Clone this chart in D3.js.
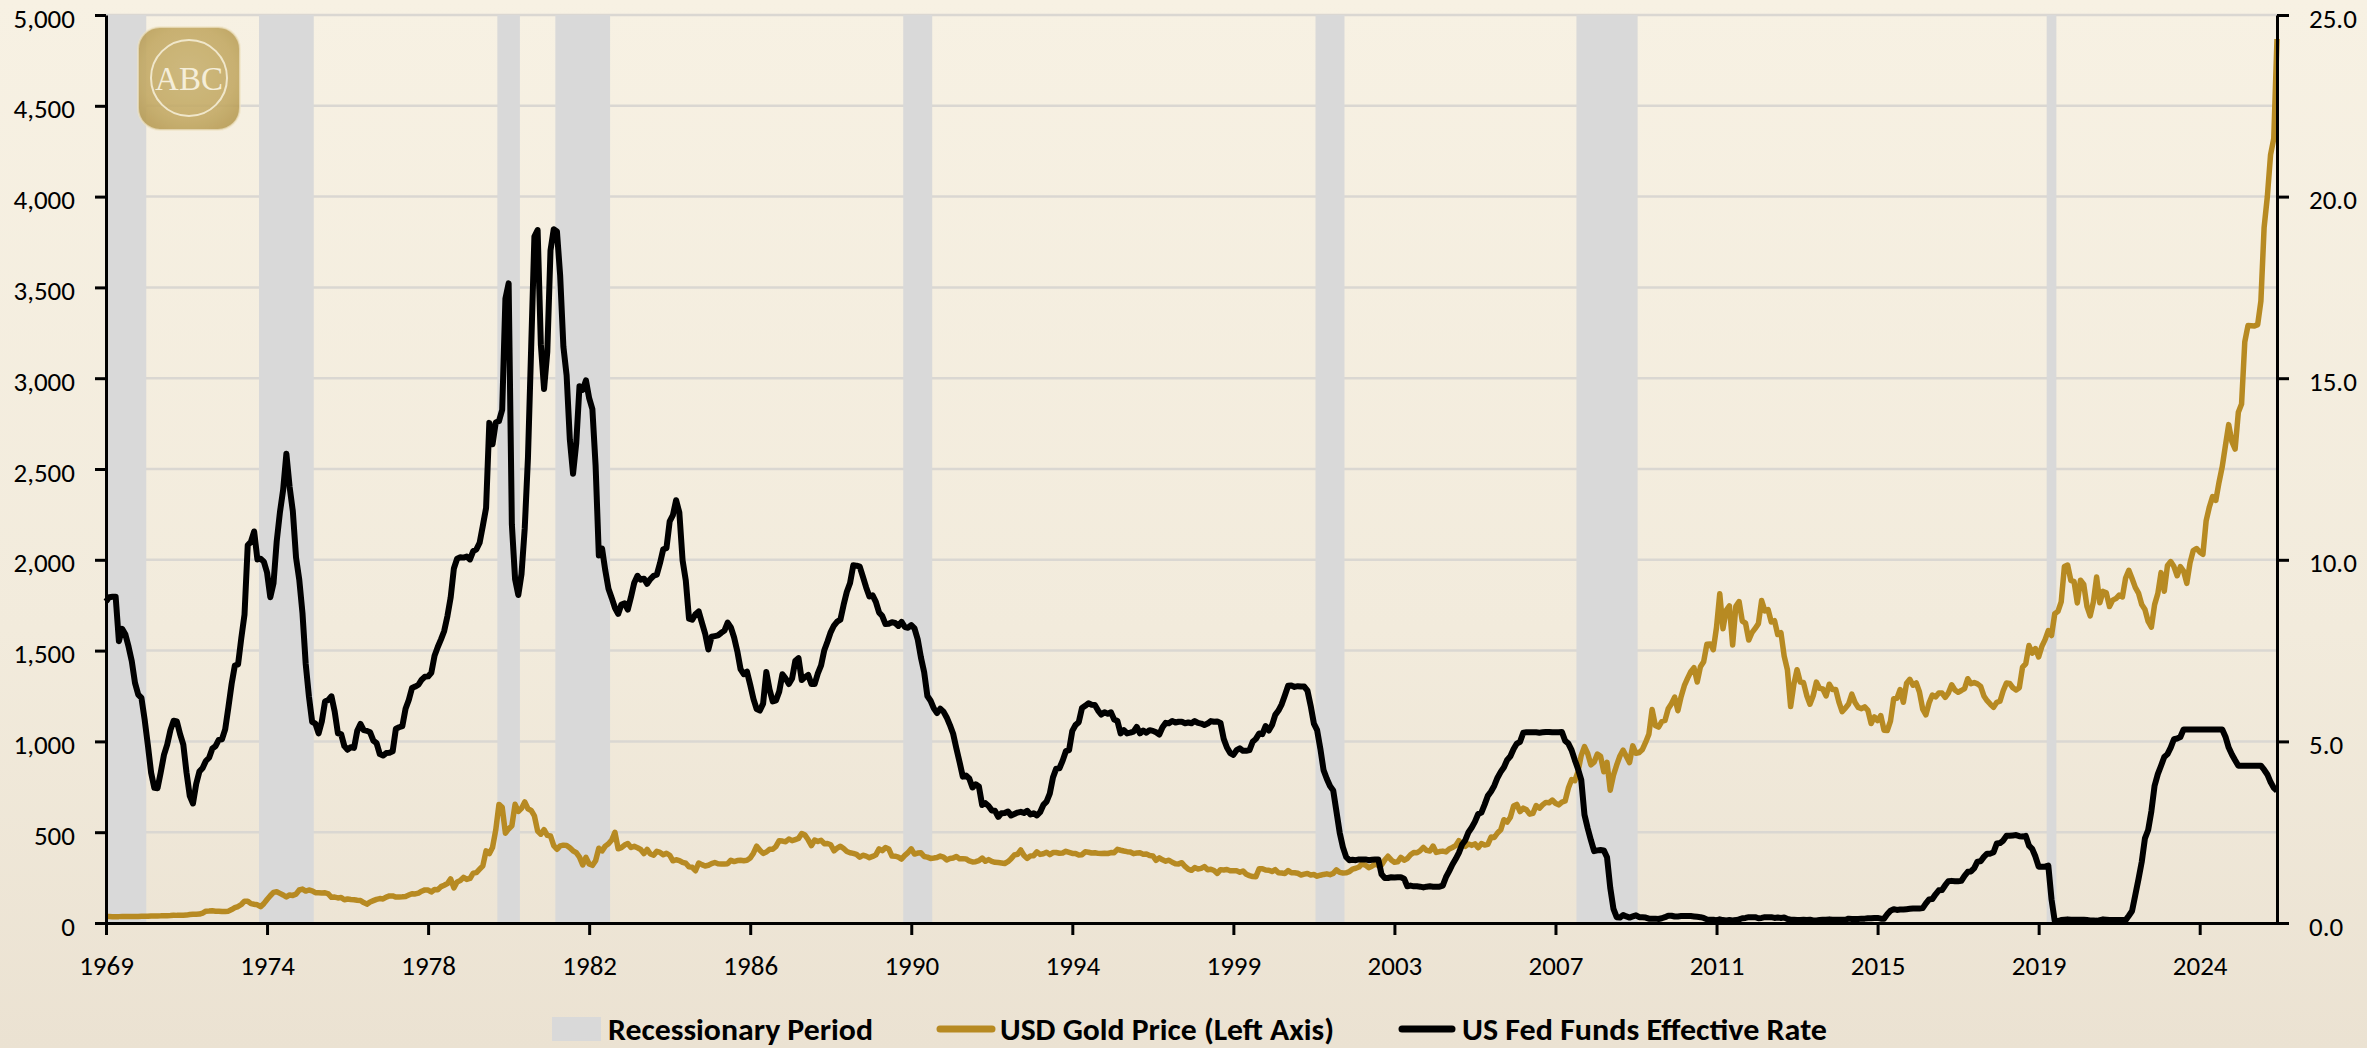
<!DOCTYPE html>
<html>
<head>
<meta charset="utf-8">
<script src="https://cdn.jsdelivr.net/npm/d3@7"></script>
<style>
  html, body { margin: 0; padding: 0; }
  body { width: 2367px; height: 1048px; overflow: hidden; }
  svg text { font-family: Carlito, Lato, "Liberation Sans", sans-serif; }
</style>
</head>
<body>
<svg id="chart" width="2367" height="1048"></svg>
<script>
// monthly series, first value = Nov 1969, last = Jan 2026
var startMonth = '1969-11';

// USD gold price, month end
var goldPrice = [
  35.2, 35.2,
  34.9, 35.0, 35.1, 35.6, 35.5, 35.4, 35.3, 35.4, 36.2, 37.5, 37.4, 37.4,
  38.9, 38.7, 38.9, 39.5, 40.5, 40.1, 41.0, 42.7, 42.0, 42.5, 43.0, 43.6,
  46.8, 48.3, 48.3, 49.0, 54.6, 65.1, 65.7, 67.0, 64.9, 64.9, 62.9, 63.9,
  65.1, 74.2, 84.5, 90.5, 102.0, 120.1, 120.0, 106.8, 103.0, 100.1, 90.0, 106.7,
  129.2, 150.2, 168.4, 172.2, 163.3, 154.1, 143.0, 154.6, 151.8, 158.8, 181.7, 186.5,
  175.8, 181.8, 177.3, 167.0, 167.0, 165.2, 166.7, 160.3, 141.3, 142.9, 138.2, 140.3,
  128.2, 132.3, 129.6, 128.4, 125.5, 123.8, 112.5, 104.0, 116.0, 123.2, 130.3, 134.5,
  132.3, 142.8, 149.2, 149.0, 143.0, 143.0, 144.1, 146.4, 154.1, 161.5, 160.0, 164.9,
  175.2, 182.3, 181.6, 170.9, 184.2, 183.1, 200.3, 208.1, 217.1, 242.6, 193.4, 226.0,
  233.7, 251.3, 240.1, 245.3, 274.6, 277.5, 296.5, 315.1, 397.3, 382.0, 415.7, 512.0,
  653.0, 637.0, 494.5, 518.0, 535.5, 653.5, 614.3, 631.3, 666.8, 629.0, 619.8, 589.8,
  506.5, 489.0, 513.8, 482.8, 479.3, 426.0, 406.0, 425.0, 428.8, 427.0, 414.5, 397.5,
  387.0, 362.6, 320.0, 361.3, 325.3, 317.5, 342.9, 411.5, 397.0, 423.3, 436.0, 456.9,
  499.5, 408.5, 414.8, 429.3, 437.5, 416.0, 422.0, 414.3, 405.0, 382.0, 405.0, 380.0,
  373.8, 394.3, 388.5, 375.8, 384.3, 373.1, 342.4, 348.3, 343.8, 333.5, 329.0, 309.0,
  306.7, 287.8, 329.8, 321.4, 314.0, 317.8, 327.0, 333.3, 326.0, 325.1, 325.3, 326.8,
  345.5, 338.2, 344.0, 345.8, 343.2, 345.5, 357.5, 384.7, 423.2, 401.0, 383.5, 390.9,
  405.9, 405.9, 421.5, 453.3, 451.0, 447.3, 462.5, 453.4, 459.5, 466.0, 492.5, 484.1,
  458.0, 426.2, 457.0, 448.5, 455.5, 436.6, 437.6, 431.0, 397.7, 412.4, 422.6, 410.2,
  394.0, 387.0, 383.2, 377.6, 361.8, 373.0, 368.3, 359.8, 366.5, 375.3, 408.2, 398.6,
  415.1, 407.7, 368.5, 367.8, 363.1, 352.2, 372.3, 387.8, 408.4, 379.5, 384.9, 386.2,
  366.0, 362.7, 355.7, 357.8, 360.4, 368.4, 362.9, 347.4, 354.9, 357.5, 366.3, 353.2,
  354.1, 353.1, 341.7, 336.4, 337.5, 343.4, 357.8, 340.0, 349.0, 339.3, 334.2, 333.0,
  330.5, 327.6, 337.8, 354.3, 374.8, 378.5, 401.8, 371.6, 355.5, 369.6, 370.9, 391.8,
  377.9, 381.6, 389.2, 376.5, 387.6, 388.3, 384.0, 385.8, 394.9, 389.1, 383.1, 383.3,
  374.9, 376.4, 392.0, 389.8, 385.3, 387.1, 383.4, 382.4, 384.0, 382.7, 387.8, 387.0,
  405.6, 400.7, 396.4, 392.9, 391.3, 382.0, 385.3, 386.5, 379.0, 379.5, 371.3, 369.3,
  345.5, 358.6, 348.2, 340.2, 345.6, 334.6, 326.4, 325.4, 332.1, 311.4, 296.8, 290.2,
  304.9, 297.4, 301.0, 310.7, 293.6, 296.3, 288.9, 273.4, 293.9, 292.3, 294.7, 287.8,
  287.1, 287.3, 279.5, 286.6, 268.6, 261.0, 255.6, 254.8, 299.0, 299.1, 291.4, 290.3,
  283.3, 293.7, 276.8, 275.1, 272.3, 288.2, 276.8, 277.0, 273.7, 264.5, 269.1, 272.7,
  264.5, 266.7, 257.7, 263.2, 267.5, 270.6, 265.9, 273.0, 293.1, 278.8, 275.5, 276.5,
  282.3, 296.9, 301.4, 308.2, 326.6, 318.5, 304.7, 312.8, 323.7, 316.9, 319.1, 347.2,
  367.5, 347.5, 334.9, 336.8, 361.4, 346.0, 354.8, 375.6, 388.0, 386.3, 398.4, 416.3,
  399.8, 395.9, 423.7, 388.5, 393.3, 395.8, 391.4, 407.3, 415.7, 425.6, 453.4, 435.6,
  422.2, 435.5, 427.5, 435.7, 414.5, 437.1, 429.0, 433.3, 473.3, 470.8, 495.7, 513.0,
  568.8, 556.0, 582.0, 644.0, 653.0, 613.5, 632.5, 623.5, 599.3, 603.8, 646.7, 632.0,
  650.5, 664.2, 661.8, 677.0, 659.1, 650.5, 665.5, 672.0, 743.0, 789.5, 783.5, 833.8,
  923.3, 971.5, 933.5, 871.0, 885.8, 930.3, 918.0, 833.0, 884.5, 730.8, 814.5, 869.8,
  919.5, 952.0, 916.5, 883.3, 975.5, 934.5, 939.0, 955.5, 995.8, 1040.0, 1175.8, 1087.5,
  1078.5, 1109.5, 1115.5, 1179.3, 1207.5, 1244.0, 1169.0, 1246.0, 1307.0, 1346.8, 1383.5, 1405.5,
  1327.0, 1411.0, 1439.0, 1535.5, 1536.5, 1505.5, 1628.5, 1813.5, 1620.0, 1722.0, 1746.0, 1531.0,
  1744.0, 1770.0, 1662.5, 1651.3, 1558.0, 1598.5, 1622.0, 1648.5, 1776.0, 1719.0, 1726.0, 1657.5,
  1664.8, 1588.5, 1598.3, 1469.0, 1394.5, 1192.0, 1314.5, 1394.8, 1326.5, 1324.0, 1253.0, 1204.5,
  1251.0, 1326.5, 1291.8, 1288.5, 1250.5, 1315.0, 1285.3, 1285.8, 1216.5, 1164.3, 1182.8, 1206.0,
  1260.3, 1214.0, 1187.0, 1180.3, 1190.6, 1171.0, 1098.4, 1135.0, 1114.0, 1142.4, 1061.9, 1060.0,
  1111.8, 1234.9, 1237.0, 1285.7, 1215.5, 1320.8, 1342.0, 1309.3, 1322.5, 1272.0, 1178.1, 1145.9,
  1212.8, 1255.6, 1244.9, 1266.5, 1266.2, 1242.3, 1267.6, 1311.8, 1283.1, 1270.2, 1280.2, 1291.0,
  1345.2, 1317.9, 1323.9, 1316.6, 1303.0, 1250.5, 1224.0, 1204.7, 1187.3, 1215.0, 1221.0, 1279.0,
  1321.0, 1319.2, 1295.4, 1283.3, 1295.8, 1409.0, 1427.6, 1528.4, 1485.3, 1510.9, 1464.6, 1523.0,
  1560.7, 1609.9, 1583.0, 1702.8, 1715.9, 1768.1, 1962.8, 1970.7, 1886.9, 1879.9, 1762.6, 1887.6,
  1863.9, 1743.3, 1691.1, 1768.1, 1905.3, 1763.2, 1825.8, 1818.1, 1742.8, 1777.9, 1786.4, 1805.9,
  1795.3, 1899.3, 1942.2, 1897.0, 1848.4, 1817.0, 1753.5, 1726.0, 1660.6, 1629.9, 1753.1, 1813.8,
  1929.5, 1826.9, 1969.0, 1990.0, 1962.7, 1912.3, 1962.3, 1938.2, 1870.1, 1983.2, 2051.2, 2062.4,
  2043.3, 2030.0, 2214.4, 2291.0, 2347.7, 2326.8, 2426.6, 2513.1, 2630.0, 2744.3, 2650.4, 2610.0,
  2812.2, 2858.0, 3200.0, 3290.0, 3289.0, 3287.0, 3295.0, 3425.0, 3830.0, 4000.0, 4230.0, 4320.0,
  4868.0
];

// US fed funds effective rate, monthly, %
var fedFunds = [
  8.85, 8.97,
  8.98, 8.98, 7.76, 8.10, 7.95, 7.61, 7.21, 6.61, 6.29, 6.20, 5.60, 4.90,
  4.14, 3.72, 3.71, 4.15, 4.63, 4.91, 5.31, 5.57, 5.55, 5.20, 4.91, 4.14,
  3.50, 3.29, 3.83, 4.17, 4.27, 4.46, 4.55, 4.80, 4.87, 5.04, 5.06, 5.33,
  5.94, 6.58, 7.09, 7.12, 7.84, 8.49, 10.40, 10.50, 10.78, 10.01, 10.03, 9.95,
  9.65, 8.97, 9.35, 10.51, 11.31, 11.93, 12.92, 12.01, 11.34, 10.06, 9.45, 8.53,
  7.13, 6.24, 5.54, 5.49, 5.22, 5.55, 6.10, 6.14, 6.24, 5.82, 5.22, 5.20,
  4.87, 4.77, 4.84, 4.82, 5.29, 5.48, 5.31, 5.29, 5.25, 5.02, 4.95, 4.65,
  4.61, 4.68, 4.69, 4.73, 5.35, 5.39, 5.42, 5.90, 6.14, 6.47, 6.51, 6.56,
  6.70, 6.78, 6.79, 6.89, 7.36, 7.60, 7.81, 8.04, 8.45, 8.96, 9.76, 10.03,
  10.07, 10.06, 10.09, 10.01, 10.24, 10.29, 10.47, 10.94, 11.43, 13.77, 13.18, 13.78,
  13.82, 14.13, 17.19, 17.61, 10.98, 9.47, 9.03, 9.61, 10.87, 12.81, 15.85, 18.90,
  19.08, 15.93, 14.70, 15.72, 18.52, 19.10, 19.04, 17.82, 15.87, 15.08, 13.31, 12.37,
  13.22, 14.78, 14.68, 14.94, 14.45, 14.15, 12.59, 10.12, 10.31, 9.71, 9.20, 8.95,
  8.68, 8.51, 8.77, 8.80, 8.63, 8.98, 9.37, 9.56, 9.45, 9.48, 9.34, 9.47,
  9.56, 9.59, 9.91, 10.29, 10.32, 11.06, 11.23, 11.64, 11.30, 9.99, 9.43, 8.38,
  8.35, 8.50, 8.58, 8.27, 7.97, 7.53, 7.88, 7.90, 7.92, 7.99, 8.05, 8.27,
  8.14, 7.86, 7.48, 6.99, 6.85, 6.92, 6.56, 6.17, 5.89, 5.85, 6.04, 6.91,
  6.43, 6.10, 6.13, 6.37, 6.85, 6.73, 6.58, 6.73, 7.22, 7.29, 6.69, 6.77,
  6.83, 6.58, 6.58, 6.87, 7.09, 7.51, 7.75, 8.01, 8.19, 8.30, 8.35, 8.76,
  9.12, 9.36, 9.85, 9.84, 9.81, 9.53, 9.24, 8.99, 9.02, 8.84, 8.55, 8.45,
  8.23, 8.24, 8.28, 8.26, 8.18, 8.29, 8.15, 8.13, 8.20, 8.11, 7.81, 7.31,
  6.91, 6.25, 6.12, 5.91, 5.78, 5.90, 5.82, 5.66, 5.45, 5.21, 4.81, 4.43,
  4.03, 4.06, 3.98, 3.73, 3.82, 3.76, 3.25, 3.30, 3.22, 3.10, 3.09, 2.92,
  3.02, 3.03, 3.07, 2.96, 3.00, 3.04, 3.06, 3.03, 3.09, 2.99, 3.02, 2.96,
  3.05, 3.25, 3.34, 3.56, 4.01, 4.25, 4.26, 4.47, 4.73, 4.76, 5.29, 5.45,
  5.53, 5.92, 5.98, 6.05, 6.01, 6.00, 5.85, 5.74, 5.80, 5.76, 5.80, 5.60,
  5.56, 5.22, 5.31, 5.22, 5.24, 5.27, 5.40, 5.22, 5.30, 5.24, 5.31, 5.29,
  5.25, 5.19, 5.39, 5.51, 5.50, 5.56, 5.52, 5.54, 5.54, 5.50, 5.52, 5.50,
  5.56, 5.51, 5.49, 5.45, 5.49, 5.56, 5.54, 5.55, 5.51, 5.07, 4.83, 4.68,
  4.63, 4.76, 4.81, 4.74, 4.74, 4.76, 4.99, 5.07, 5.22, 5.20, 5.42, 5.30,
  5.45, 5.73, 5.85, 6.02, 6.27, 6.53, 6.54, 6.50, 6.52, 6.51, 6.51, 6.40,
  5.98, 5.49, 5.31, 4.80, 4.21, 3.97, 3.77, 3.65, 3.07, 2.49, 2.09, 1.82,
  1.73, 1.74, 1.73, 1.75, 1.75, 1.75, 1.73, 1.74, 1.75, 1.75, 1.34, 1.24,
  1.24, 1.26, 1.25, 1.26, 1.26, 1.22, 1.01, 1.03, 1.01, 1.01, 1.00, 0.98,
  1.00, 1.01, 1.00, 1.00, 1.00, 1.03, 1.26, 1.43, 1.61, 1.76, 1.93, 2.16,
  2.28, 2.50, 2.63, 2.79, 3.00, 3.04, 3.26, 3.50, 3.62, 3.78, 4.00, 4.16,
  4.29, 4.49, 4.59, 4.79, 4.94, 4.99, 5.24, 5.25, 5.25, 5.25, 5.25, 5.24,
  5.25, 5.26, 5.26, 5.25, 5.25, 5.25, 5.26, 5.02, 4.94, 4.76, 4.49, 4.24,
  3.94, 2.98, 2.61, 2.28, 1.98, 2.00, 2.01, 2.00, 1.81, 0.97, 0.39, 0.16,
  0.15, 0.22, 0.18, 0.15, 0.18, 0.21, 0.16, 0.16, 0.15, 0.12, 0.12, 0.12,
  0.11, 0.13, 0.16, 0.20, 0.20, 0.18, 0.18, 0.19, 0.19, 0.19, 0.19, 0.18,
  0.17, 0.16, 0.14, 0.10, 0.09, 0.09, 0.07, 0.10, 0.08, 0.07, 0.08, 0.07,
  0.08, 0.10, 0.13, 0.14, 0.16, 0.16, 0.16, 0.13, 0.14, 0.16, 0.16, 0.16,
  0.14, 0.15, 0.14, 0.15, 0.11, 0.09, 0.09, 0.08, 0.08, 0.09, 0.08, 0.09,
  0.07, 0.07, 0.08, 0.09, 0.09, 0.10, 0.09, 0.09, 0.09, 0.09, 0.09, 0.12,
  0.11, 0.11, 0.11, 0.12, 0.12, 0.13, 0.13, 0.14, 0.14, 0.12, 0.12, 0.24,
  0.34, 0.38, 0.36, 0.37, 0.37, 0.38, 0.39, 0.40, 0.40, 0.40, 0.41, 0.54,
  0.65, 0.66, 0.79, 0.90, 0.91, 1.04, 1.15, 1.16, 1.15, 1.15, 1.16, 1.30,
  1.41, 1.42, 1.51, 1.69, 1.70, 1.82, 1.91, 1.91, 1.95, 2.19, 2.20, 2.27,
  2.40, 2.40, 2.41, 2.42, 2.39, 2.38, 2.40, 2.13, 2.04, 1.83, 1.55, 1.55,
  1.55, 1.58, 0.65, 0.05, 0.05, 0.08, 0.09, 0.10, 0.09, 0.09, 0.09, 0.09,
  0.09, 0.08, 0.07, 0.07, 0.06, 0.08, 0.10, 0.09, 0.08, 0.08, 0.08, 0.08,
  0.08, 0.08, 0.20, 0.33, 0.77, 1.21, 1.68, 2.33, 2.56, 3.08, 3.78, 4.10,
  4.33, 4.57, 4.65, 4.83, 5.06, 5.08, 5.12, 5.33, 5.33, 5.33, 5.33, 5.33,
  5.33, 5.33, 5.33, 5.33, 5.33, 5.33, 5.33, 5.33, 5.13, 4.83, 4.64, 4.48,
  4.33, 4.33, 4.33, 4.33, 4.33, 4.33, 4.33, 4.33, 4.22, 4.09, 3.88, 3.72,
  3.64
];

var recessionStart = ['1969-12', '1973-11', '1980-01', '1981-07', '1990-07', '2001-03', '2007-12', '2020-02'];
var recessionEnd   = ['1970-11', '1975-03', '1980-07', '1982-11', '1991-03', '2001-11', '2009-06', '2020-04'];

var goldTicks = [0, 500, 1000, 1500, 2000, 2500, 3000, 3500, 4000, 4500, 5000];
var rateTicks = [0, 5, 10, 15, 20, 25];
var monthTicks = [0, 50, 100, 150, 200, 250, 300, 350, 400, 450, 500, 550, 600, 650];

var legendLabels = ['Recessionary Period', 'USD Gold Price (Left Axis)', 'US Fed Funds Effective Rate'];

var goldColor = '#b78a22';
var rateColor = '#000000';
var bandColor = '#d9d9d9';

var W = 2367, H = 1048;
var margin = { top: 15, right: 90, bottom: 125, left: 106 };
var plotRight = W - margin.right;
var plotBottom = H - margin.bottom;

function monthIndex(s) {
  var a = s.split('-'), b = startMonth.split('-');
  return (+a[0] - +b[0]) * 12 + (+a[1] - +b[1]);
}
function yearOf(i) {
  var b = startMonth.split('-');
  return +b[0] + Math.floor((+b[1] - 1 + i) / 12);
}

var x = d3.scaleLinear().domain([0, goldPrice.length - 1]).range([margin.left, plotRight]);
var yGold = d3.scaleLinear().domain([0, 5000]).range([plotBottom, margin.top]);
var yRate = d3.scaleLinear().domain([0, 25]).range([plotBottom, margin.top]);

var svg = d3.select('#chart');
var defs = svg.append('defs');

var bg = defs.append('linearGradient').attr('id', 'bg')
  .attr('x1', 0).attr('y1', 0).attr('x2', 0).attr('y2', 1);
bg.append('stop').attr('offset', '0%').attr('stop-color', '#f7f1e3');
bg.append('stop').attr('offset', '60%').attr('stop-color', '#f2ebdc');
bg.append('stop').attr('offset', '100%').attr('stop-color', '#ebe2d2');

var lg = defs.append('radialGradient').attr('id', 'logoFill')
  .attr('cx', '50%').attr('cy', '45%').attr('r', '65%');
lg.append('stop').attr('offset', '0%').attr('stop-color', '#c9b271');
lg.append('stop').attr('offset', '70%').attr('stop-color', '#c2a862');
lg.append('stop').attr('offset', '100%').attr('stop-color', '#b69a52');

svg.append('rect').attr('width', W).attr('height', H).attr('fill', 'url(#bg)');

// gridlines
svg.append('g').selectAll('line')
  .data(goldTicks.slice(1))
  .enter().append('line')
  .attr('x1', margin.left).attr('x2', plotRight)
  .attr('y1', function(d) { return yGold(d); })
  .attr('y2', function(d) { return yGold(d); })
  .attr('stroke', '#dad7d2').attr('stroke-width', 2.5);

// recession bands
svg.append('g').selectAll('rect')
  .data(recessionStart)
  .enter().append('rect')
  .attr('x', function(d) { return Math.max(x(monthIndex(d) - 0.5), margin.left); })
  .attr('y', margin.top)
  .attr('width', function(d, i) {
    return x(monthIndex(recessionEnd[i]) + 0.5) - Math.max(x(monthIndex(d) - 0.5), margin.left);
  })
  .attr('height', plotBottom - margin.top)
  .attr('fill', bandColor);

// logo
var logo = svg.append('g').attr('transform', 'translate(189,78)').attr('opacity', 0.88);
logo.append('rect')
  .attr('x', -51).attr('y', -51).attr('width', 102).attr('height', 103).attr('rx', 22)
  .attr('fill', 'url(#logoFill)')
  .attr('stroke', '#efe4c4').attr('stroke-width', 2).attr('stroke-opacity', 0.7);
logo.append('circle').attr('r', 38)
  .attr('fill', 'none').attr('stroke', '#f0e6c8').attr('stroke-width', 2);
logo.append('text').text('ABC')
  .attr('text-anchor', 'middle').attr('dy', '0.36em')
  .style('font-family', '"Liberation Serif", "DejaVu Serif", serif')
  .attr('font-size', 33).attr('fill', '#f5eed8');

// series
var goldLine = d3.line()
  .x(function(d, i) { return x(i); })
  .y(function(d) { return yGold(d); });
var rateLine = d3.line()
  .x(function(d, i) { return x(i); })
  .y(function(d) { return yRate(d); });

svg.append('path').datum(goldPrice)
  .attr('d', goldLine).attr('fill', 'none')
  .attr('stroke', goldColor).attr('stroke-width', 5.5)
  .attr('stroke-linejoin', 'round');

svg.append('path').datum(fedFunds)
  .attr('d', rateLine).attr('fill', 'none')
  .attr('stroke', rateColor).attr('stroke-width', 6)
  .attr('stroke-linejoin', 'round');

// axes
var yAxisLeft = d3.axisLeft(yGold).tickValues(goldTicks)
  .tickSize(11).tickSizeOuter(0).tickPadding(20)
  .tickFormat(d3.format(','));
var yAxisRight = d3.axisRight(yRate).tickValues(rateTicks)
  .tickSize(12).tickSizeOuter(0).tickPadding(20)
  .tickFormat(d3.format('.1f'));
var xAxis = d3.axisBottom(x).tickValues(monthTicks)
  .tickSize(12).tickSizeOuter(0).tickPadding(21)
  .tickFormat(function(i) { return yearOf(i); });

function styleAxis(g) {
  g.select('.domain').attr('stroke', '#000').attr('stroke-width', 3);
  g.selectAll('.tick line').attr('stroke', '#000').attr('stroke-width', 3);
  g.selectAll('.tick text').attr('fill', '#000').attr('font-size', 27)
    .style('font-family', 'Carlito, Lato, "Liberation Sans", sans-serif');
}

svg.append('g').attr('transform', 'translate(' + margin.left + ',0)')
  .call(yAxisLeft).call(styleAxis)
  .selectAll('.tick text').attr('dy', null).attr('y', 12);
svg.append('g').attr('transform', 'translate(' + plotRight + ',0)')
  .call(yAxisRight).call(styleAxis)
  .selectAll('.tick text').attr('dy', null).attr('y', 12);
svg.append('g').attr('transform', 'translate(0,' + plotBottom + ')')
  .call(xAxis).call(styleAxis);

// legend
var legend = svg.append('g').attr('transform', 'translate(0,1029)');
legend.append('rect').attr('x', 552).attr('y', -12).attr('width', 49).attr('height', 24).attr('fill', bandColor);
legend.append('line').attr('x1', 940).attr('x2', 992).attr('y1', 0).attr('y2', 0)
  .attr('stroke', goldColor).attr('stroke-width', 7).attr('stroke-linecap', 'round');
legend.append('line').attr('x1', 1402).attr('x2', 1452).attr('y1', 0).attr('y2', 0)
  .attr('stroke', rateColor).attr('stroke-width', 7).attr('stroke-linecap', 'round');

var legendX = [608, 1000, 1462];
var legendW = [265, 334, 365];
legend.selectAll('text.lbl')
  .data(legendLabels)
  .enter().append('text')
  .attr('class', 'lbl')
  .attr('x', function(d, i) { return legendX[i]; })
  .attr('y', 11)
  .attr('textLength', function(d, i) { return legendW[i]; })
  .attr('lengthAdjust', 'spacingAndGlyphs')
  .attr('font-size', 30).attr('font-weight', 'bold').attr('fill', '#000')
  .text(function(d) { return d; });
</script>
</body>
</html>
